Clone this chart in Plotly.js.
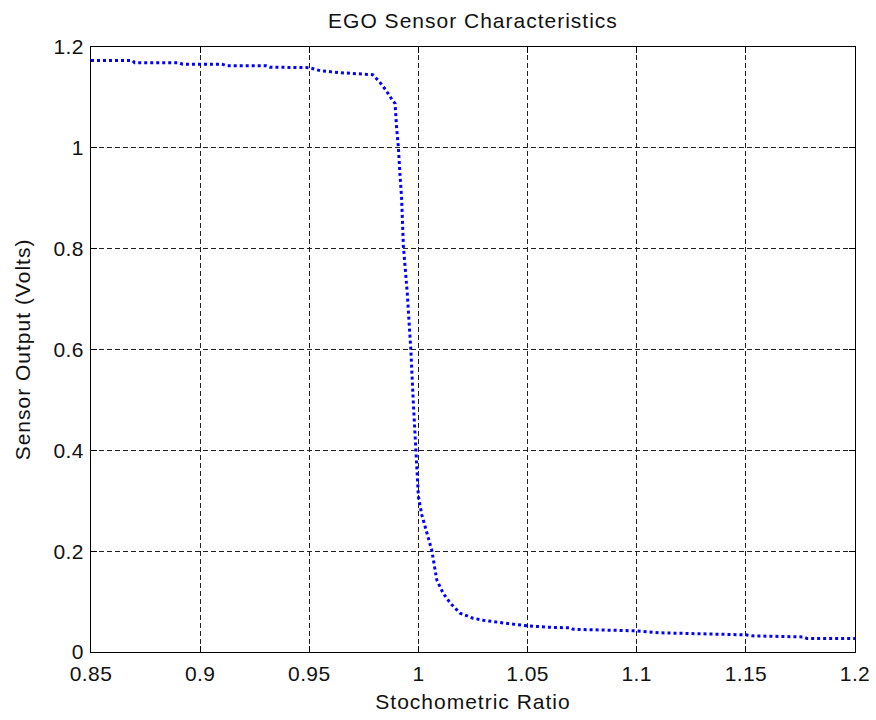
<!DOCTYPE html>
<html>
<head>
<meta charset="utf-8">
<script src="https://cdn.plot.ly/plotly-3.0.1.min.js"></script>
<style>
html,body{margin:0;padding:0;background:#fff;}
#chart{width:876px;height:720px;}
#chart .gtitle, #chart .xtitle, #chart .ytitle {letter-spacing: 1px;}
#chart .xtick text, #chart .ytick text {letter-spacing: 0.4px;}
</style>
</head>
<body>
<div id="chart"></div>
<script>
const ratio = [0.85, 0.869, 0.870, 0.890, 0.892, 0.910, 0.912, 0.930, 0.932, 0.950, 0.955, 0.964, 0.972, 0.979, 0.982, 0.985, 0.988, 0.9893, 0.9900, 0.9908, 0.9915, 0.9923, 0.9931, 0.9940, 0.9949, 0.9957, 0.9965, 0.9977, 0.9989, 1.0000, 1.0015, 1.0040, 1.0061, 1.0084, 1.0114, 1.0150, 1.0191, 1.0250, 1.0297, 1.0400, 1.0496, 1.0600, 1.0694, 1.0710, 1.0850, 1.0999, 1.1107, 1.1320, 1.1500, 1.1530, 1.1760, 1.1780, 1.2000];
const voltage = [1.173, 1.173, 1.169, 1.169, 1.166, 1.166, 1.163, 1.163, 1.160, 1.159, 1.153, 1.149, 1.147, 1.145, 1.132, 1.115, 1.095, 1.088, 1.040, 1.002, 0.950, 0.900, 0.806, 0.760, 0.711, 0.655, 0.601, 0.491, 0.397, 0.308, 0.273, 0.235, 0.202, 0.143, 0.116, 0.095, 0.077, 0.067, 0.063, 0.057, 0.052, 0.049, 0.048, 0.045, 0.044, 0.042, 0.038, 0.036, 0.034, 0.032, 0.030, 0.027, 0.027];
const xTicks = [0.85, 0.9, 0.95, 1, 1.05, 1.1, 1.15, 1.2];
const xTickText = ['0.85', '0.9', '0.95', '1', '1.05', '1.1', '1.15', '1.2'];
const yTicks = [0, 0.2, 0.4, 0.6, 0.8, 1, 1.2];
const yTickText = ['0', '0.2', '0.4', '0.6', '0.8', '1', '1.2'];

const font = {family: 'Liberation Sans, Arial, sans-serif', size: 21, color: '#111'};
const axisCommon = {
  showline: true, linecolor: '#000', linewidth: 1, mirror: 'ticks',
  ticks: 'inside', ticklen: 6, tickcolor: '#000', tickwidth: 1,
  showgrid: true, gridcolor: '#222', griddash: '5px,3px', gridwidth: 1,
  zeroline: false, tickfont: font, fixedrange: true
};
Plotly.newPlot('chart', [{
  x: ratio, y: voltage, type: 'scatter', mode: 'lines',
  line: {color: '#0000ff', width: 3, dash: 'dot'},
  hoverinfo: 'skip'
}], {
  width: 876, height: 720,
  margin: {l: 91, r: 21, t: 47, b: 68},
  paper_bgcolor: '#fff', plot_bgcolor: '#fff',
  showlegend: false,
  font: font,
  title: {text: 'EGO Sensor Characteristics', font: {family: font.family, size: 21, color: '#111'}, xref: 'paper', x: 0.5, xanchor: 'center', yref: 'container', y: 0.972, yanchor: 'middle'},
  xaxis: Object.assign({}, axisCommon, {
    range: [0.85, 1.2], tickmode: 'array', tickvals: xTicks, ticktext: xTickText,
    ticklabelstandoff: 3,
    title: {text: 'Stochometric Ratio', font: font, standoff: 10}
  }),
  yaxis: Object.assign({}, axisCommon, {
    range: [0, 1.2], tickmode: 'array', tickvals: yTicks, ticktext: yTickText,
    ticklabelstandoff: 2,
    title: {text: 'Sensor Output (Volts)', font: font, standoff: 18}
  })
}, {staticPlot: true});
</script>
</body>
</html>
